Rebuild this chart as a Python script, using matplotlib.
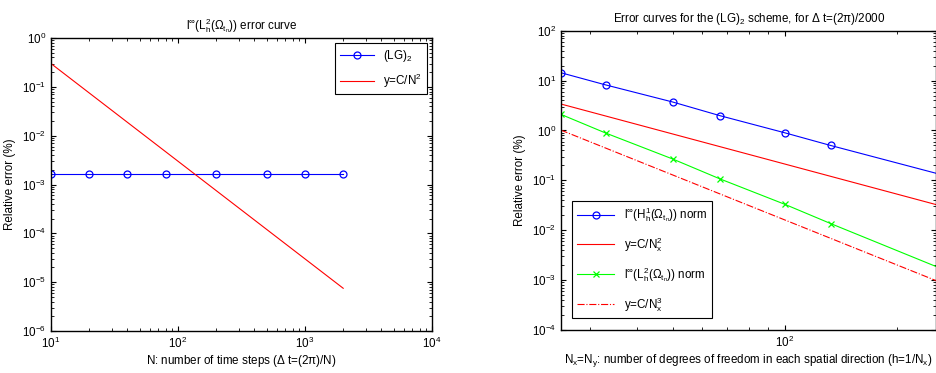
import matplotlib
matplotlib.use('Agg')
import matplotlib.pyplot as plt
from matplotlib.ticker import NullFormatter

# MATLAB-ish look: Helvetica-like font, ticks inside, box on
plt.rcParams['font.family'] = ['Liberation Sans', 'DejaVu Sans']
plt.rcParams['mathtext.fontset'] = 'custom'
plt.rcParams['mathtext.rm'] = 'Liberation Sans'
plt.rcParams['mathtext.it'] = 'Liberation Sans'
plt.rcParams['mathtext.bf'] = 'Liberation Sans:bold'
plt.rcParams['font.size'] = 8.4
plt.rcParams['xtick.direction'] = 'in'
plt.rcParams['ytick.direction'] = 'in'
plt.rcParams['xtick.top'] = True
plt.rcParams['ytick.right'] = True

# left panel: error vs number of time steps
N_time = [10, 20, 40, 80, 200, 500, 1000, 2000]
err_lg2 = [1.62e-3, 1.62e-3, 1.62e-3, 1.62e-3, 1.62e-3, 1.62e-3, 1.62e-3, 1.62e-3]
ref2_N = [10, 2000]
ref2_err = [0.30, 7.5e-6]
left_xticks = [1e1, 1e2, 1e3, 1e4]
left_yticks = [1e-6, 1e-5, 1e-4, 1e-3, 1e-2, 1e-1, 1e0]

# right panel: error vs spatial degrees of freedom
Nx = [25, 33, 50, 67, 100, 133, 256]
err_h1 = [14.4, 8.2, 3.72, 1.98, 0.90, 0.50, 0.138]
err_l2 = [2.11, 0.89, 0.268, 0.107, 0.0332, 0.0136, 0.00186]
ref_Nx = [25, 256]
ref_n2 = [3.4, 0.0325]
ref_n3 = [1.02, 0.00097]
right_xticks = [1e2]
right_yticks = [1e-4, 1e-3, 1e-2, 1e-1, 1e0, 1e1, 1e2]

fig = plt.figure(figsize=(9.37, 3.73), dpi=100)

ax1 = fig.add_axes([0.0544, 0.1126, 0.4066, 0.7855])
ax1.loglog(N_time, err_lg2, '-o', color='blue', lw=0.8, ms=5, mfc='none', mew=0.9, label='(LG)$_2$')
ax1.loglog(ref2_N, ref2_err, '-', color='red', lw=0.8, label='y=C/N$^2$')
ax1.set_xticks(left_xticks)
ax1.set_yticks(left_yticks)
ax1.set_xlim(10, 1e4)
ax1.set_ylim(1e-6, 1)
ax1.set_xlabel('N: number of time steps ($\\Delta$ t=(2$\\pi$)/N)', labelpad=1.5)
ax1.set_ylabel('Relative error (%)')
ax1.set_title('l$^{\\infty}$(L$^2_h$($\\Omega_{t_n}$)) error curve', fontsize=8.4)
leg1 = ax1.legend(loc='upper right', fancybox=False, edgecolor='black', framealpha=1,
                  handlelength=2.9, borderaxespad=0.45, labelspacing=0.65)
leg1.get_frame().set_linewidth(0.8)

ax2 = fig.add_axes([0.5984, 0.1153, 0.4010, 0.8024])
ax2.loglog(Nx, err_h1, '-o', color='blue', lw=0.8, ms=5, mfc='none', mew=0.9,
           markevery=[0, 1, 2, 3, 4, 5], label='l$^{\\infty}$(H$^1_h$($\\Omega_{t_n}$)) norm')
ax2.loglog(ref_Nx, ref_n2, '-', color='red', lw=0.8, label='y=C/N$_x^2$')
ax2.loglog(Nx, err_l2, '-x', color='#00ff00', lw=0.8, ms=4, mew=0.9,
           markevery=[0, 1, 2, 3, 4, 5], label='l$^{\\infty}$(L$^2_h$($\\Omega_{t_n}$)) norm')
ax2.loglog(ref_Nx, ref_n3, '-.', color='red', lw=0.8, label='y=C/N$_x^3$')
ax2.set_xticks(right_xticks)
ax2.set_yticks(right_yticks)
ax2.set_xlim(25, 256)
ax2.set_ylim(1e-4, 1e2)
ax2.set_xlabel('N$_x$=N$_y$: number of degrees of freedom in each spatial direction (h=1/N$_x$)',
               labelpad=1.5)
ax2.set_ylabel('Relative error (%)')
ax2.set_title('Error curves for the (LG)$_2$ scheme, for $\\Delta$ t=(2$\\pi$)/2000', fontsize=8.4)
leg2 = ax2.legend(loc='lower left', fancybox=False, edgecolor='black', framealpha=1,
                  handlelength=3.2, borderaxespad=1.0, labelspacing=0.95)
leg2.get_frame().set_linewidth(0.8)

for ax in (ax1, ax2):
    for sp in ax.spines.values():
        sp.set_linewidth(1.0)
    ax.tick_params(which='both', labelsize=8.4)
    # no labels on minor ticks (MATLAB only labels decades)
    ax.xaxis.set_minor_formatter(NullFormatter())
    ax.yaxis.set_minor_formatter(NullFormatter())

fig.savefig('out.png', dpi=100)
